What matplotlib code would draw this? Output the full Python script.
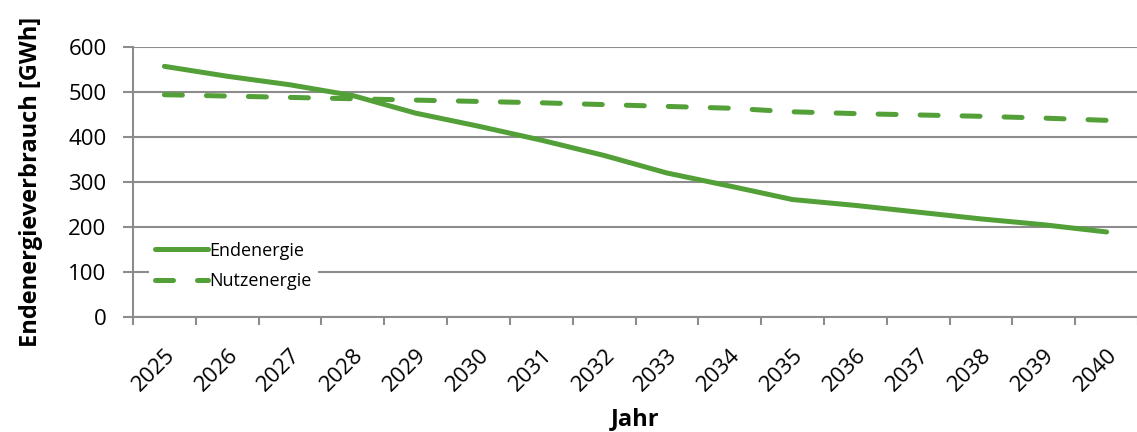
import matplotlib.pyplot as plt
from matplotlib.ticker import FixedLocator, NullFormatter

plt.rcParams['font.family'] = ['Open Sans', 'DejaVu Sans']

# energy demand per year (GWh)
years = [str(y) for y in range(2025, 2041)]
endenergie = [557, 535, 516, 492, 453, 424, 393, 359, 320, 291, 261, 248, 233, 218, 205, 189]
nutzenergie = [494, 491, 488, 485, 482, 479, 476, 472, 468, 464, 456, 452, 449, 446, 442, 437]

green = '#53a038'
grey = '#8c8c8c'

fig = plt.figure(figsize=(11.37, 4.32), dpi=100)
ax = fig.add_axes([133 / 1137, 1 - 317 / 432, 1005 / 1137, 270 / 432])

x = list(range(len(years)))
ax.plot(x, endenergie, color=green, lw=3.6, solid_capstyle='round',
        solid_joinstyle='round', label='Endenergie', zorder=3)
ax.plot(x, nutzenergie, color=green, lw=3.6, dashes=(3.6, 4.8),
        dash_capstyle='round', label='Nutzenergie', zorder=3)

ax.set_xlim(-0.5, len(years) - 0.5)
ax.set_ylim(0, 600)
ax.set_yticks(range(0, 601, 100))

# tick marks between categories, labels at category centres
ax.xaxis.set_major_locator(FixedLocator([i - 0.5 for i in range(len(years) + 1)]))
ax.xaxis.set_major_formatter(NullFormatter())
ax.xaxis.set_minor_locator(FixedLocator(x))
ax.set_xticklabels(years, minor=True, rotation=45, ha='right', va='top',
                   rotation_mode='anchor', fontsize=16)
ax.tick_params(axis='x', which='minor', length=0, pad=20)
ax.tick_params(axis='x', which='major', length=6, width=1.5, color=grey)
ax.tick_params(axis='y', length=7, width=1.5, color=grey, labelsize=16, pad=12)

ax.grid(axis='y', color=grey, lw=1.5)
ax.set_axisbelow(True)
for side in ('top', 'right'):
    ax.spines[side].set_visible(False)
for side in ('left', 'bottom'):
    ax.spines[side].set_color(grey)
    ax.spines[side].set_linewidth(1.5)

ax.set_ylabel('Endenergieverbrauch [GWh]', fontsize=17, fontweight='bold', labelpad=18)
ax.set_xlabel('Jahr', fontsize=17, fontweight='bold', labelpad=8)

leg = ax.legend(loc='lower left', bbox_to_anchor=(0.016, 0.075), frameon=True,
                fancybox=False, edgecolor='none', facecolor='white', framealpha=1,
                fontsize=13, handlelength=2.9, handletextpad=0.1,
                labelspacing=0.7, borderpad=0.35, borderaxespad=0)

fig.savefig('out.png', dpi=100)
